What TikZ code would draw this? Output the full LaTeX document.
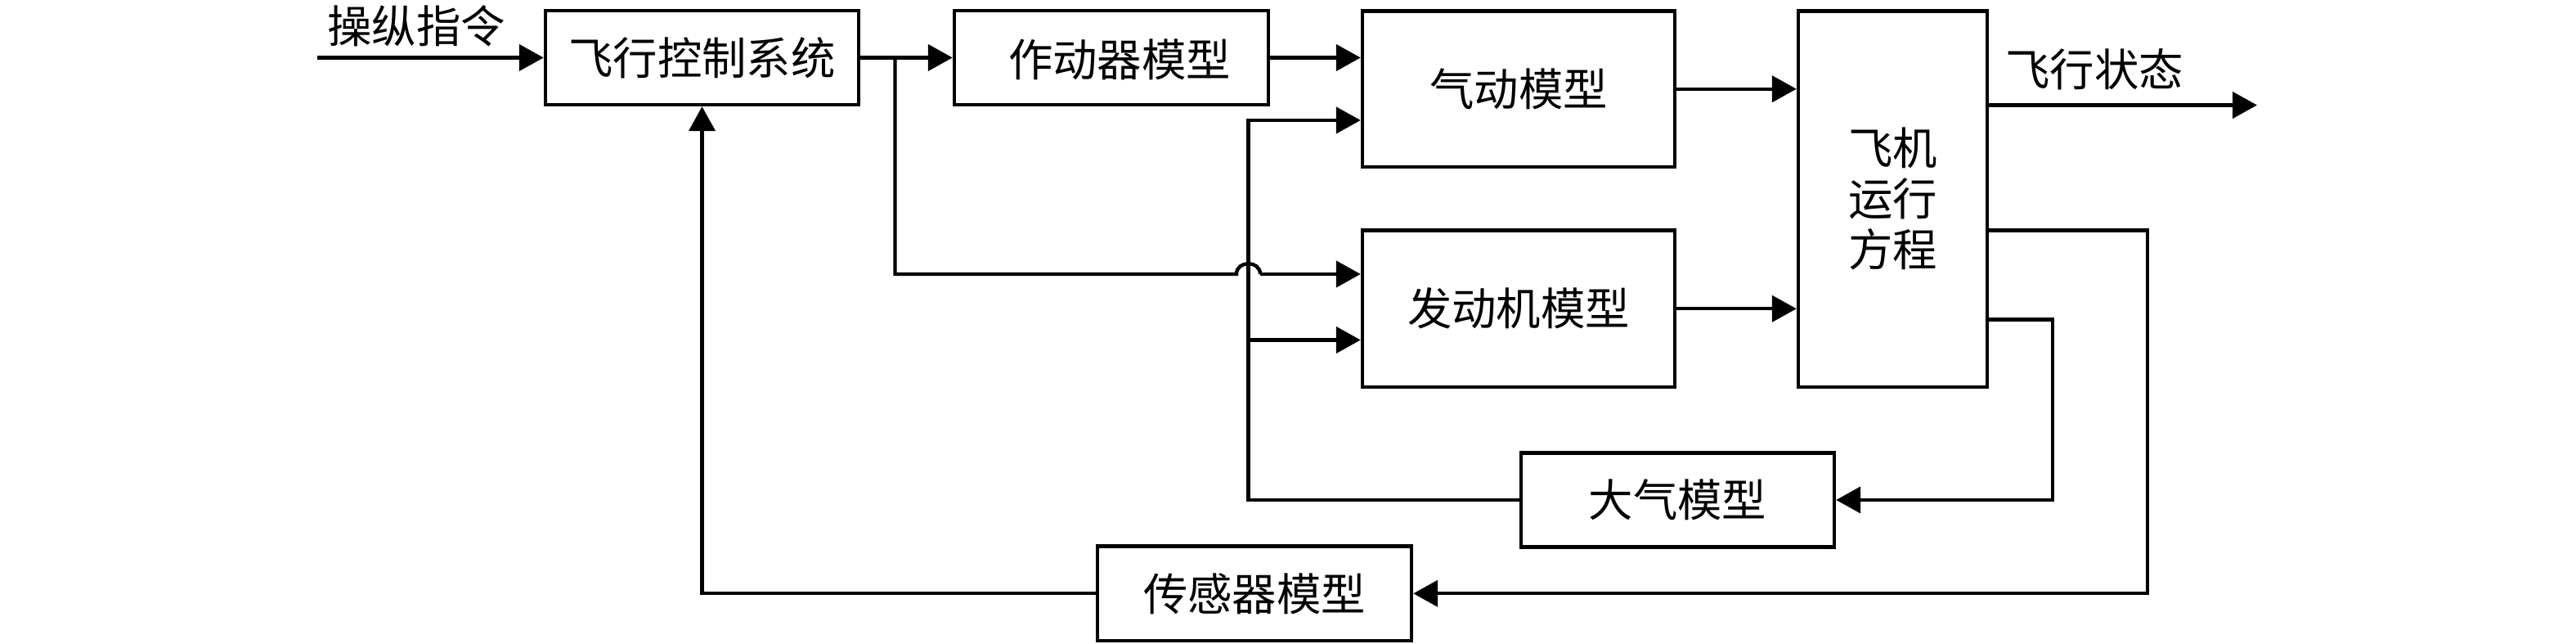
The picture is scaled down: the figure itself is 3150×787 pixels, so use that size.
\documentclass[tikz,border=0pt]{standalone}
\usepackage{fontspec}
\newfontfamily\cjk{Noto Sans CJK SC}
\usetikzlibrary{arrows.meta}
\begin{document}
\begin{tikzpicture}[x=0.25pt,y=-0.25pt,
  blk/.style={draw,line width=1.1pt,inner sep=0pt,font=\cjk\fontsize{13.6}{15.5}\selectfont,align=center},
  txt/.style={inner sep=0pt,font=\cjk\fontsize{13.6}{15.5}\selectfont},
  ln/.style={line width=1.1pt},
  arr/.style={ln,-{Triangle[length=7.5pt,width=8pt]}}]
\useasboundingbox (0,0) rectangle (3150,787);
\fill[white] (0,0) rectangle (3150,787);
% blocks
\node[blk,minimum width=95.75pt,minimum height=28.75pt] (fcs) at (858.5,70.5) {飞行控制系统};
\node[blk,minimum width=96pt,minimum height=28.75pt,text depth=0pt] (act) at (1359,70.5) {\hspace*{5pt}作动器模型};
\node[blk,minimum width=95.5pt,minimum height=47.6pt] (aero) at (1857,108.75) {气动模型};
\node[blk,minimum width=95.5pt,minimum height=47.85pt] (eng) at (1857,377.3) {发动机模型};
\node[blk,minimum width=57.75pt,minimum height=114.9pt] (eom) at (2314.5,243.25) {飞机\\运行\\方程};
\node[blk,minimum width=95.75pt,minimum height=28.75pt] (atm) at (2051.5,611) {大气模型};
\node[blk,minimum width=96pt,minimum height=28.85pt] (sen) at (1534,725.3) {传感器模型};
% labels
\node[txt] (cmd) at (509,32) {操纵指令};
\node[txt] (state) at (2561,85) {飞行状态};
% coordinates
\coordinate (in) at (388,70.5);
\coordinate (out) at (2760,128.5);
\coordinate (br) at (1094.5,70.5);
\coordinate (hopL) at (1512,335);
\coordinate (hopR) at (1541,335);
\coordinate (bt) at (1526.5,147);
\coordinate (be) at (1526.5,415.5);
\coordinate (sy) at (2626,281.6);
\coordinate (ay) at (2510,390.5);
% connectors
\draw[arr] (in) -- (fcs.west);
\draw[arr] (fcs.east) -- (act.west);
\draw[ln] (br) |- (hopL) .. controls +(0,-17) and +(0,-17) .. (hopR);
\draw[arr] (hopR) -- (hopR -| eng.west);
\draw[arr] (act.east) -- (act.east -| aero.west);
\draw[arr] (atm.west) -| (bt) -- (bt -| aero.west);
\draw[arr] (be) -- (be -| eng.west);
\draw[arr] (aero.east) -- (aero.east -| eom.west);
\draw[arr] (eng.east) -- (eng.east -| eom.west);
\draw[arr] (out -| eom.east) -- (out);
\draw[arr] (sy -| eom.east) -- (sy) |- (sen.east);
\draw[arr] (ay -| eom.east) -- (ay) |- (atm.east);
\draw[arr] (sen.west) -| (fcs.south);
\end{tikzpicture}
\end{document}
